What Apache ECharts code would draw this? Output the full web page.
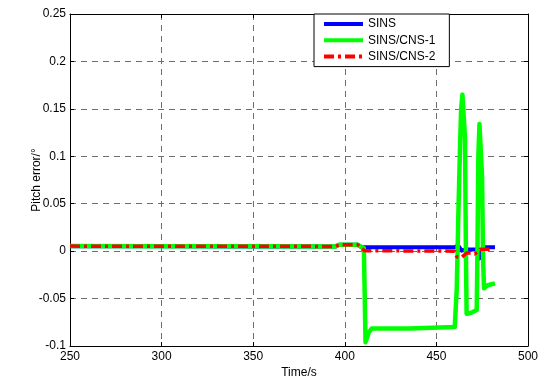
<!DOCTYPE html>
<html>
<head>
<meta charset="utf-8">
<script src="https://cdn.jsdelivr.net/npm/echarts@6/dist/echarts.min.js"></script>
<style>
html,body{margin:0;padding:0;background:#fff;}
#chart{width:547px;height:381px;}
</style>
</head>
<body>
<div id="chart"></div>
<script>
// ---- data ----
var seriesNames = ['SINS', 'SINS/CNS-1', 'SINS/CNS-2'];
var xTickMin = 250, xTickMax = 500, xTickStep = 50;
var yTickMin = -0.1, yTickMax = 0.25, yTickStep = 0.05;

var sinsTime  = [250, 300, 350, 395, 397, 407, 409, 460, 461.8, 463.8, 466, 472.3, 473.4, 475.6, 482];
var sinsPitch = [0.0052, 0.0051, 0.0050, 0.0050, 0.0068, 0.0068, 0.0042, 0.0040, 0.0062, 0.0005, 0.0018, 0.0018, -0.0077, 0.0040, 0.0040];

var cns1Time  = [250, 300, 350, 395, 397, 407, 409, 410.4, 410.9, 411.3, 412, 413, 414.7, 435, 436, 460,
                 461.1, 462, 462.9, 463.5, 464.2, 465, 465.6, 466.1, 466.5, 469, 472, 472.4, 472.9, 473.5, 474.3, 474.9, 475.5, 476, 478, 482];
var cns1Pitch = [0.0053, 0.0052, 0.0051, 0.0050, 0.0068, 0.0068, 0.0045, 0.0030, -0.050, -0.096, -0.092, -0.086, -0.0815, -0.0815, -0.0800, -0.0800,
                 -0.040, 0.040, 0.110, 0.150, 0.165, 0.163, 0.120, 0.000, -0.066, -0.065, -0.062, 0.000, 0.100, 0.134, 0.133, 0.080, -0.010, -0.039, -0.036, -0.034];

var cns2Time  = [250, 300, 350, 395, 397, 407, 409, 411, 430, 460, 461.2, 463.8, 466.5, 469.2, 471, 473.8, 480.3];
var cns2Pitch = [0.0053, 0.0052, 0.0051, 0.0050, 0.0068, 0.0068, 0.0030, 0.0003, 0.0003, 0.0000, -0.0062, -0.0065, -0.0020, -0.0020, -0.0030, 0.0020, 0.0020];

function zip(xs, ys) { return xs.map(function (x, i) { return [x, ys[i]]; }); }

var FONT = '"Liberation Sans", Arial, sans-serif';
var gridDash = { color: '#6e6e6e', width: 1, type: [6, 5] };

var chart = echarts.init(document.getElementById('chart'), null, { renderer: 'canvas' });
chart.setOption({
  animation: false,
  backgroundColor: '#fff',
  grid: { left: 70, right: 19, top: 14, bottom: 35, containLabel: false, outerBoundsMode: 'none' },
  legend: {
    orient: 'vertical',
    left: 314, top: 14,
    data: seriesNames,
    itemWidth: 39, itemHeight: 14, itemGap: 4.3,
    padding: [4, 14, 4, 8],
    borderColor: '#000', borderWidth: 1, backgroundColor: '#fff',
    itemStyle: { color: 'transparent', borderWidth: 0, opacity: 0 },
    lineStyle: { width: 4 },
    textStyle: { fontFamily: FONT, fontSize: 12, color: '#000' }
  },
  xAxis: [{
    type: 'value', min: xTickMin, max: xTickMax, interval: xTickStep,
    name: 'Time/s', nameLocation: 'middle', nameGap: 21, nameMoveOverlap: false,
    nameTextStyle: { fontFamily: FONT, fontSize: 12, color: '#000' },
    axisLine: { show: true, onZero: false, lineStyle: { color: '#000', width: 1 } },
    axisTick: { show: true, inside: true, length: 4, lineStyle: { color: '#000' } },
    axisLabel: { fontFamily: FONT, fontSize: 12, color: '#000', margin: 5 },
    splitLine: { show: true, lineStyle: gridDash }
  }, {
    type: 'value', position: 'top', min: xTickMin, max: xTickMax, interval: xTickStep,
    axisLine: { show: true, onZero: false, lineStyle: { color: '#000', width: 1 } },
    axisTick: { show: true, inside: true, length: 4, lineStyle: { color: '#000' } },
    axisLabel: { show: false }, splitLine: { show: false }
  }],
  yAxis: [{
    type: 'value', min: yTickMin, max: yTickMax, interval: yTickStep,
    name: 'Pitch error/°', nameLocation: 'middle', nameGap: 27, nameRotate: 90, nameMoveOverlap: false,
    nameTextStyle: { fontFamily: FONT, fontSize: 12, color: '#000' },
    axisLine: { show: true, onZero: false, lineStyle: { color: '#000', width: 1 } },
    axisTick: { show: true, inside: true, length: 4, lineStyle: { color: '#000' } },
    axisLabel: { fontFamily: FONT, fontSize: 12, color: '#000', margin: 4 },
    splitLine: { show: true, lineStyle: gridDash }
  }, {
    type: 'value', position: 'right', min: yTickMin, max: yTickMax, interval: yTickStep,
    axisLine: { show: true, onZero: false, lineStyle: { color: '#000', width: 1 } },
    axisTick: { show: true, inside: true, length: 4, lineStyle: { color: '#000' } },
    axisLabel: { show: false }, splitLine: { show: false }
  }],
  series: [{
    name: seriesNames[0], type: 'line', symbol: 'none', xAxisIndex: 0, yAxisIndex: 0,
    data: zip(sinsTime, sinsPitch),
    lineStyle: { color: '#0000ff', width: 4, join: 'round' }, itemStyle: { color: '#0000ff' }, z: 2
  }, {
    name: seriesNames[1], type: 'line', symbol: 'none', xAxisIndex: 0, yAxisIndex: 0,
    data: zip(cns1Time, cns1Pitch),
    lineStyle: { color: '#00ff00', width: 4.5, join: 'round' }, itemStyle: { color: '#00ff00' }, z: 3
  }, {
    name: seriesNames[2], type: 'line', symbol: 'none', xAxisIndex: 0, yAxisIndex: 0,
    data: zip(cns2Time, cns2Pitch),
    lineStyle: { color: '#ff0000', width: 3.5, type: [10, 4, 3, 4] }, itemStyle: { color: '#ff0000' }, z: 4
  }]
});
</script>
</body>
</html>
